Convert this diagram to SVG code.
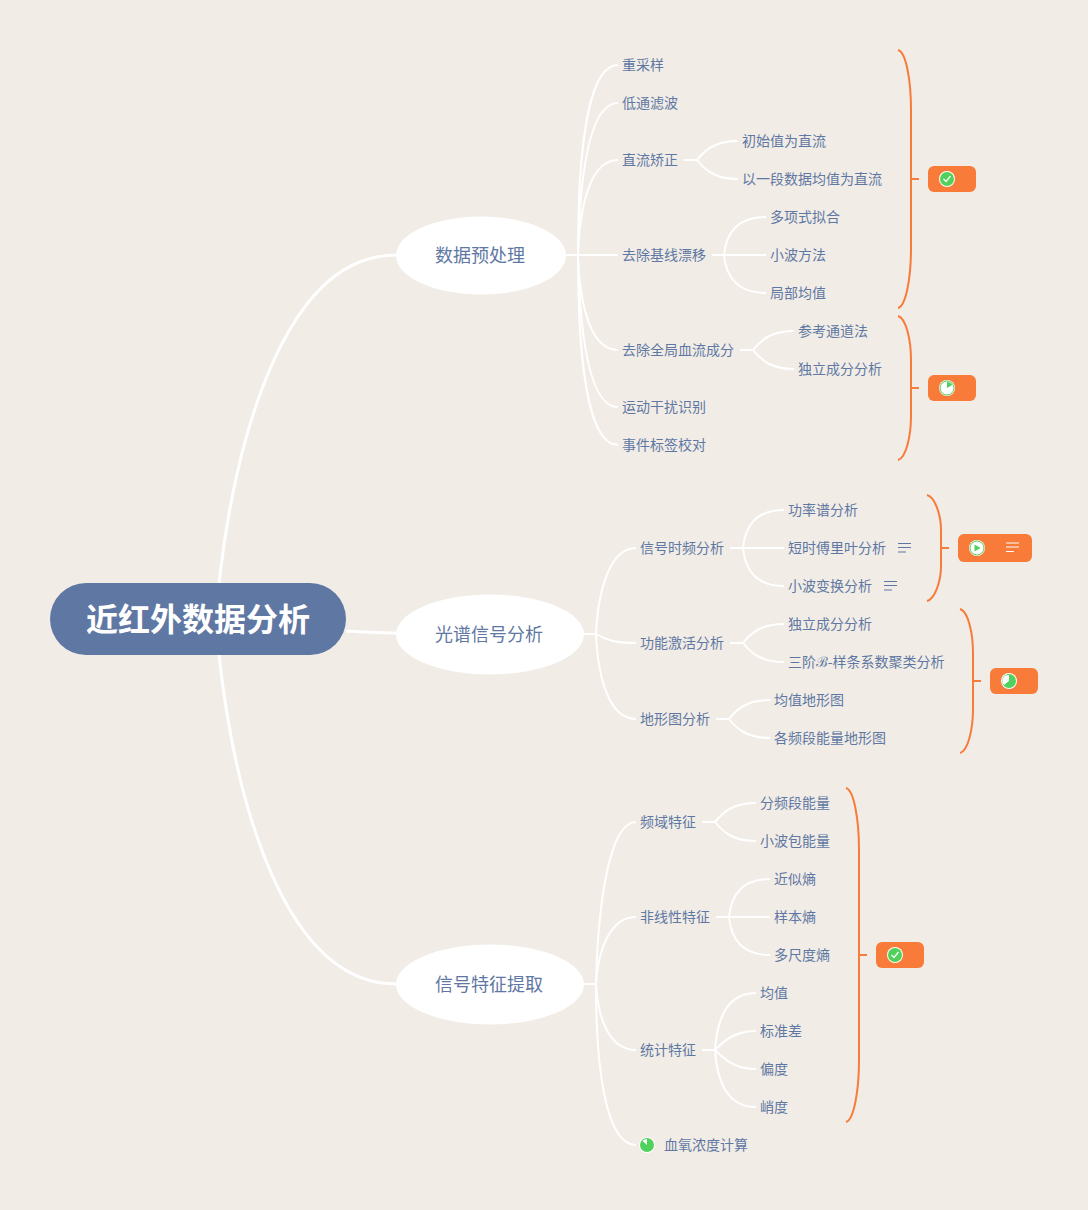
<svg xmlns="http://www.w3.org/2000/svg" width="1088" height="1210" viewBox="0 0 1088 1210">
<style>
text{font-family:"Microsoft YaHei","Noto Sans CJK SC","Noto Sans",sans-serif}
.t{font-size:14px;fill:#5f78a3}
.m{font-size:18px;fill:#5f78a3;text-anchor:middle}
.r{font-size:32px;font-weight:700;fill:#fff;text-anchor:middle}
.c{fill:none;stroke:#fff;stroke-width:2}
.c3{fill:none;stroke:#fff;stroke-width:3}
.b{fill:none;stroke:#f97b3a;stroke-width:2}
.tag{fill:#f97b3a}
.g{fill:#4fd15c}
.n{fill:none;stroke:#5f78a3;stroke-width:1}
.nw{fill:none;stroke:#fff;stroke-width:1}
</style>
<rect width="1088" height="1210" fill="#f1ece6"/>
<g id="connectors">
<path class="c3" d="M219 584C235 440 284 255 396 255"/>
<path class="c3" d="M346 631C364 632 380 633 396 633"/>
<path class="c3" d="M219 655C235 800 284 984 396 984"/>
<path class="c" d="M566 255H578"/>
<path class="c" d="M578 255C578 150 588 65 618 65"/>
<path class="c" d="M578 255C580 170 590 103 618 103"/>
<path class="c" d="M578 255C580 200 592 160 618 160"/>
<path class="c" d="M578 255H618"/>
<path class="c" d="M578 255C580 310 592 350 618 350"/>
<path class="c" d="M578 255C580 340 590 407 618 407"/>
<path class="c" d="M578 255C578 360 588 445 618 445"/>
<path class="c" d="M684 160H697C705 150 715 141 738 141"/>
<path class="c" d="M697 160C705 170 715 179 738 179"/>
<path class="c" d="M712 255H724"/><path class="c" d="M724 255C726 235 736 217 766 217"/><path class="c" d="M724 255H766"/><path class="c" d="M724 255C726 275 736 293 766 293"/>
<path class="c" d="M740 350H753C761 340 771 331 794 331"/><path class="c" d="M753 350C761 360 771 369 794 369"/>
<path class="c" d="M584 634H596"/>
<path class="c" d="M596 634C598 590 610 548 636 548"/>
<path class="c" d="M596 634C606 640 616 643 636 643"/>
<path class="c" d="M596 634C598 680 610 719 636 719"/>
<path class="c" d="M730 548H743"/><path class="c" d="M743 548C745 528 755 510 784 510"/><path class="c" d="M743 548H784"/><path class="c" d="M743 548C745 568 755 586 784 586"/>
<path class="c" d="M730 643H743C751 633 761 624 784 624"/><path class="c" d="M743 643C751 653 761 662 784 662"/>
<path class="c" d="M716 719H729C737 709 747 700 770 700"/><path class="c" d="M729 719C737 729 747 738 770 738"/>
<path class="c" d="M584 984H596"/>
<path class="c" d="M596 984C598 900 610 822 636 822"/>
<path class="c" d="M596 984C598 950 610 917 636 917"/>
<path class="c" d="M596 984C598 1020 610 1050 636 1050"/>
<path class="c" d="M596 984C596 1070 606 1145 636 1145"/>
<path class="c" d="M702 822H715C723 812 733 803 756 803"/><path class="c" d="M715 822C723 832 733 841 756 841"/>
<path class="c" d="M716 917H729"/><path class="c" d="M729 917C731 897 741 879 770 879"/><path class="c" d="M729 917H770"/><path class="c" d="M729 917C731 937 741 955 770 955"/>
<path class="c" d="M702 1050H715"/><path class="c" d="M715 1050C717 1020 727 993 756 993"/><path class="c" d="M715 1050C725 1040 735 1031 756 1031"/><path class="c" d="M715 1050C725 1060 735 1069 756 1069"/><path class="c" d="M715 1050C717 1080 727 1107 756 1107"/>
</g>
<g id="root"><rect x="50" y="583" width="296" height="72" rx="36" fill="#5f78a3"/><text class="r" x="198" y="631">近红外数据分析</text></g>
<g id="topic1"><ellipse cx="481" cy="255.500" rx="85" ry="39" fill="#fff"/><text class="m" x="480" y="261.500">数据预处理</text></g>
<g id="topic2"><ellipse cx="490" cy="634.500" rx="94" ry="40" fill="#fff"/><text class="m" x="489" y="640.500">光谱信号分析</text></g>
<g id="topic3"><ellipse cx="490" cy="984.500" rx="94" ry="40" fill="#fff"/><text class="m" x="489" y="990.500">信号特征提取</text></g>
<g id="n1"><text class="t" x="622" y="70">重采样</text></g>
<g id="n2"><text class="t" x="622" y="108">低通滤波</text></g>
<g id="n3"><text class="t" x="622" y="165">直流矫正</text></g>
<g id="n4"><text class="t" x="742" y="146">初始值为直流</text></g>
<g id="n5"><text class="t" x="742" y="184">以一段数据均值为直流</text></g>
<g id="n6"><text class="t" x="622" y="260">去除基线漂移</text></g>
<g id="n7"><text class="t" x="770" y="222">多项式拟合</text></g>
<g id="n8"><text class="t" x="770" y="260">小波方法</text></g>
<g id="n9"><text class="t" x="770" y="298">局部均值</text></g>
<g id="n10"><text class="t" x="622" y="355">去除全局血流成分</text></g>
<g id="n11"><text class="t" x="798" y="336">参考通道法</text></g>
<g id="n12"><text class="t" x="798" y="374">独立成分分析</text></g>
<g id="n13"><text class="t" x="622" y="412">运动干扰识别</text></g>
<g id="n14"><text class="t" x="622" y="450">事件标签校对</text></g>
<g id="n15"><text class="t" x="640" y="553">信号时频分析</text></g>
<g id="n16"><text class="t" x="788" y="515">功率谱分析</text></g>
<g id="n17"><text class="t" x="788" y="553">短时傅里叶分析</text><path class="n" d="M898 543.500H911M898 547.500H911M898 552H906"/></g>
<g id="n18"><text class="t" x="788" y="591">小波变换分析</text><path class="n" d="M884 581.500H897M884 585.500H897M884 590H892"/></g>
<g id="n19"><text class="t" x="640" y="648">功能激活分析</text></g>
<g id="n20"><text class="t" x="788" y="629">独立成分分析</text></g>
<g id="n21"><text class="t" x="788" y="667">三阶ℬ-样条系数聚类分析</text></g>
<g id="n22"><text class="t" x="640" y="724">地形图分析</text></g>
<g id="n23"><text class="t" x="774" y="705">均值地形图</text></g>
<g id="n24"><text class="t" x="774" y="743">各频段能量地形图</text></g>
<g id="n25"><text class="t" x="640" y="827">频域特征</text></g>
<g id="n26"><text class="t" x="760" y="808">分频段能量</text></g>
<g id="n27"><text class="t" x="760" y="846">小波包能量</text></g>
<g id="n28"><text class="t" x="640" y="922">非线性特征</text></g>
<g id="n29"><text class="t" x="774" y="884">近似熵</text></g>
<g id="n30"><text class="t" x="774" y="922">样本熵</text></g>
<g id="n31"><text class="t" x="774" y="960">多尺度熵</text></g>
<g id="n32"><text class="t" x="640" y="1055">统计特征</text></g>
<g id="n33"><text class="t" x="760" y="998">均值</text></g>
<g id="n34"><text class="t" x="760" y="1036">标准差</text></g>
<g id="n35"><text class="t" x="760" y="1074">偏度</text></g>
<g id="n36"><text class="t" x="760" y="1112">峭度</text></g>
<g id="n37"><circle cx="647" cy="1145" r="8" fill="#fff"/><circle class="g" cx="647" cy="1145" r="7"/><path d="M647 1145V1139A6 6 0 0 0 642.500 1141Z" fill="#fff"/><text class="t" x="664" y="1150">血氧浓度计算</text></g>
<g id="boundary1"><path class="b" d="M898 50C906 52 911 80 911 110V248C911 278 906 306 898 308M911 179H919"/><rect class="tag" x="928" y="166" width="48" height="26" rx="6"/><circle cx="947" cy="179" r="8" fill="#fff"/><circle class="g" cx="947" cy="179" r="7"/><path d="M943.500 179L946 181.500L950.500 176" fill="none" stroke="#fff" stroke-width="1.200"/></g>
<g id="boundary2"><path class="b" d="M898 316C906 318 911 340 911 360V416C911 436 906 458 898 460M911 388H919"/><rect class="tag" x="928" y="375" width="48" height="26" rx="6"/><circle cx="947" cy="388" r="8" fill="#fff"/><circle cx="947" cy="388" r="7" fill="#fff" stroke="#4fd15c"/><path class="g" d="M947 388V382A6 6 0 0 1 952.200 385Z"/></g>
<g id="boundary3"><path class="b" d="M927 495C935 497 941 515 941 530V566C941 581 935 599 927 601M941 548H949"/><rect class="tag" x="958" y="534" width="74" height="28" rx="6"/><circle cx="977" cy="548" r="8" fill="#fff"/><circle cx="977" cy="548" r="7" fill="#fff" stroke="#4fd15c"/><path class="g" d="M974.500 544.500V551.500L980.500 548Z"/><path class="nw" d="M1006 543H1019M1006 547H1019M1006 551.500H1014"/></g>
<g id="boundary4"><path class="b" d="M960 609C968 611 973 633 973 653V709C973 729 968 751 960 753M973 681H981"/><rect class="tag" x="990" y="668" width="48" height="26" rx="6"/><circle cx="1009" cy="681" r="8" fill="#fff"/><circle class="g" cx="1009" cy="681" r="7"/><path d="M1009 681V675A6 6 0 0 0 1004 685Z" fill="#fff"/></g>
<g id="boundary5"><path class="b" d="M846 788C854 790 859 820 859 850V1060C859 1090 854 1120 846 1122M859 955H867"/><rect class="tag" x="876" y="942" width="48" height="26" rx="6"/><circle cx="895" cy="955" r="8" fill="#fff"/><circle class="g" cx="895" cy="955" r="7"/><path d="M891.500 955L894 957.500L898.500 952" fill="none" stroke="#fff" stroke-width="1.200"/></g>
</svg>
